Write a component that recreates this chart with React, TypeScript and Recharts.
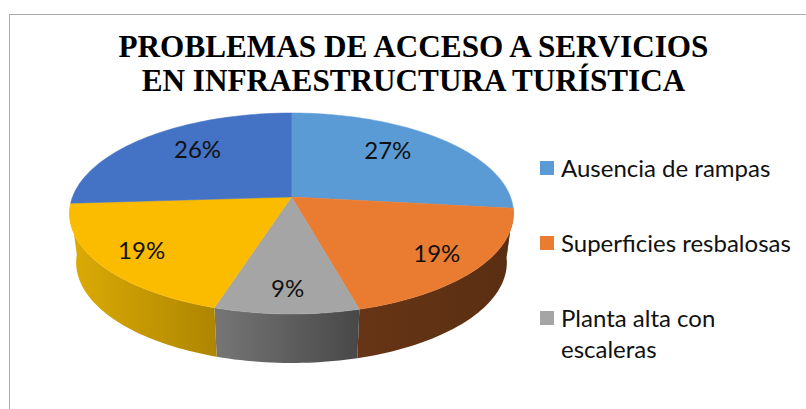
import React from "react";
import { PieChart, Pie, Legend } from "recharts";

const titleLines = ["PROBLEMAS DE ACCESO A SERVICIOS", "EN INFRAESTRUCTURA TURÍSTICA"];
const categories = ["Ausencia de rampas", "Superficies resbalosas", "Planta alta con escaleras", "", ""];
const shares = [26.8, 19, 9, 19.2, 26];
const topColors = ["#5b9bd5", "#ea7c31", "#a5a5a5", "#fbbc00", "#4472c4"];
const wallColors = ["#3d6a94", "url(#wallOrange)", "url(#wallGray)", "url(#wallYellow)", "#2f4f88"];

const table = categories.map((name, i) => ({ name, value: shares[i], fill: topColors[i] }));

const FONT = "Lato, 'Noto Sans', sans-serif";
const CX = 291.5;
const CY = 197;
const R = 219;
const PERSP = 0.164;
const SQUASH = 0.4466;
const DEPTH = 49;
const BASE_SCALE = 0.97;

// projects a point of the flat disc (clock angle theta, radius r as a fraction) on the tilted plane
function project(cx: number, cy: number, radius: number, theta: number, r = 1) {
  const u = Math.sin(theta) * r;
  const v = Math.cos(theta) * r;
  const d = 1 + PERSP * v;
  return { x: cx + (radius * u) / d, y: cy - (radius * SQUASH * v) / d };
}
const toClock = (deg: number) => ((90 - deg) * Math.PI) / 180;

function sampleArc(a: number, b: number) {
  const n = Math.max(4, Math.ceil(Math.abs(b - a) * 40));
  return Array.from({ length: n + 1 }, (_, i) => a + ((b - a) * i) / n);
}

function TopSlice(props: any) {
  const { cx, cy, outerRadius, startAngle, endAngle, fill } = props;
  const pts = sampleArc(toClock(startAngle), toClock(endAngle)).map((t) => project(cx, cy, outerRadius, t));
  const d = `M${cx},${cy}` + pts.map((p) => `L${p.x.toFixed(2)},${p.y.toFixed(2)}`).join("") + "Z";
  return <path d={d} fill={fill} stroke={fill} strokeWidth={0.5} />;
}

function WallSlice(props: any) {
  const { cx, cy, outerRadius, startAngle, endAngle, fill } = props;
  const lo = (95 * Math.PI) / 180;
  const hi = (265 * Math.PI) / 180;
  const a = Math.max(toClock(startAngle), lo);
  const b = Math.min(toClock(endAngle), hi);
  if (b <= a) return <g />;
  const top = sampleArc(a, b).map((t) => project(cx, cy, outerRadius, t));
  const bottom = top
    .slice()
    .reverse()
    .map((p) => ({ x: cx + (p.x - cx) * BASE_SCALE, y: p.y + DEPTH }));
  const d = [...top, ...bottom].map((p, i) => `${i ? "L" : "M"}${p.x.toFixed(2)},${p.y.toFixed(2)}`).join("") + "Z";
  return <path d={d} fill={fill} />;
}

function SliceLabel(props: any) {
  const { cx, cy, outerRadius, midAngle, percent } = props;
  const theta = toClock(midAngle);
  const back = Math.cos(theta) > 0;
  const p = project(cx, cy, outerRadius, theta, back ? 0.63 : 0.8);
  return (
    <text
      x={p.x}
      y={p.y + (back ? -9 : 0)}
      textAnchor="middle"
      dominantBaseline="central"
      fontFamily={FONT}
      fontSize={24}
      fill="#111"
    >
      {`${Math.round(percent * 100)}%`}
    </text>
  );
}

function LegendBox(props: any) {
  const items = (props.payload || []).filter((e: any) => e.value && e.type !== "none");
  return (
    <div style={{ fontFamily: FONT, fontSize: 24, lineHeight: "31px", color: "#111" }}>
      {items.map((e: any) => (
        <div key={e.value} style={{ display: "flex", marginBottom: 44 }}>
          <span style={{ width: 14, height: 14, marginTop: 9, marginRight: 7, background: e.color, flex: "none" }} />
          <span style={{ width: 238 }}>{e.value}</span>
        </div>
      ))}
    </div>
  );
}

export default function App() {
  return (
    <div style={{ position: "absolute", left: 0, top: 0, width: 806, height: 409, background: "#fff" }}>
      <div
        style={{
          position: "absolute",
          left: 9,
          top: 14,
          right: 0,
          bottom: 0,
          borderLeft: "1px solid #a9a9a9",
          borderTop: "1px solid #a9a9a9",
        }}
      />
      <div style={{ position: "absolute", left: 0, top: 0 }}>
        <PieChart width={806} height={409} margin={{ top: 0, right: 0, bottom: 0, left: 0 }}>
          <defs>
            <linearGradient id="wallOrange" x1="0" y1="0" x2="1" y2="0">
              <stop offset="0" stopColor="#673516" />
              <stop offset="1" stopColor="#5a2e12" />
            </linearGradient>
            <linearGradient id="wallGray" x1="0" y1="0" x2="1" y2="0">
              <stop offset="0" stopColor="#767676" />
              <stop offset="1" stopColor="#484848" />
            </linearGradient>
            <linearGradient id="wallYellow" x1="0" y1="0" x2="1" y2="0">
              <stop offset="0" stopColor="#dcab06" />
              <stop offset="1" stopColor="#ae8500" />
            </linearGradient>
          </defs>
          {titleLines.map((line, i) => (
            <text
              key={line}
              x={413.5}
              y={57 + i * 34}
              textAnchor="middle"
              fontFamily="'Liberation Serif', serif"
              fontWeight="bold"
              fontSize={31.2}
              fill="#000"
            >
              {line}
            </text>
          ))}
          <Pie
            data={table.map((row, i) => ({ ...row, fill: wallColors[i] }))}
            dataKey="value"
            nameKey="name"
            cx={CX}
            cy={CY}
            outerRadius={R}
            startAngle={90}
            endAngle={-270}
            stroke="none"
            legendType="none"
            isAnimationActive={false}
            shape={WallSlice}
          />
          <Pie
            data={table}
            dataKey="value"
            nameKey="name"
            cx={CX}
            cy={CY}
            outerRadius={R}
            startAngle={90}
            endAngle={-270}
            stroke="none"
            labelLine={false}
            label={SliceLabel}
            isAnimationActive={false}
            shape={TopSlice}
          />
          <Legend
            content={LegendBox}
            itemSorter={null}
            wrapperStyle={{ position: "absolute", left: 540, top: 152, width: 262, bottom: "auto", right: "auto" }}
          />
        </PieChart>
      </div>
    </div>
  );
}
